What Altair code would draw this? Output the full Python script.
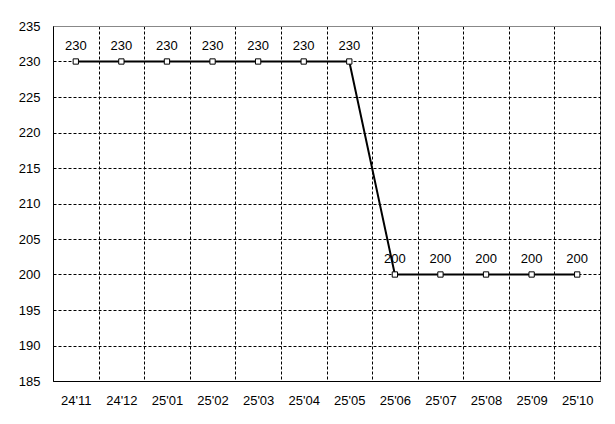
import altair as alt
import pandas as pd

months = ["24'11", "24'12", "25'01", "25'02", "25'03", "25'04", "25'05",
          "25'06", "25'07", "25'08", "25'09", "25'10"]
values = [230, 230, 230, 230, 230, 230, 230, 200, 200, 200, 200, 200]

df = pd.DataFrame({"month": months, "value": values})
df["label"] = df["value"].astype(str)

FONT = "Liberation Sans"

x = alt.X("month:N", sort=months, title=None,
          scale=alt.Scale(paddingInner=0, paddingOuter=0),
          axis=alt.Axis(labelAngle=0, tickBand="extent", ticks=False,
                        domainColor="black", domainWidth=1,
                        grid=True, gridColor="black", gridDash=[3, 2],
                        gridWidth=1, labelPadding=13, labelFontSize=13,
                        labelFont=FONT, labelColor="black"))
y = alt.Y("value:Q", title=None,
          scale=alt.Scale(domain=[185, 235], nice=False, zero=False),
          axis=alt.Axis(values=list(range(185, 236, 5)), ticks=False,
                        domainColor="black", domainWidth=1,
                        grid=True,
                        gridColor={"condition": {"test": "datum.value == 235", "value": "#888888"}, "value": "black"},
                        gridDash={"condition": {"test": "datum.value == 235", "value": []}, "value": [3, 2]},
                        gridWidth=1, labelPadding=13, labelFontSize=13,
                        labelFont=FONT, labelColor="black"))

base = alt.Chart(df)
line = base.mark_line(color="black", strokeWidth=2).encode(x=x, y=y)
pts = base.mark_square(size=28, filled=True, fill="white", stroke="black",
                       strokeWidth=1, opacity=1).encode(x=x, y=y)
txt = base.mark_text(dy=-16, fontSize=13, font=FONT, color="black").encode(
    x=x, y=y, text="label:N")

chart = (line + pts + txt).properties(
    width=547, height=355,
    autosize=alt.AutoSizeParams(type="none"),
    padding={"left": 45, "top": 18, "right": 5, "bottom": 30},
    background="white",
).configure_view(stroke="#888888", strokeWidth=1)

chart.save("out.html", embed_options={"renderer": "svg", "actions": False})
